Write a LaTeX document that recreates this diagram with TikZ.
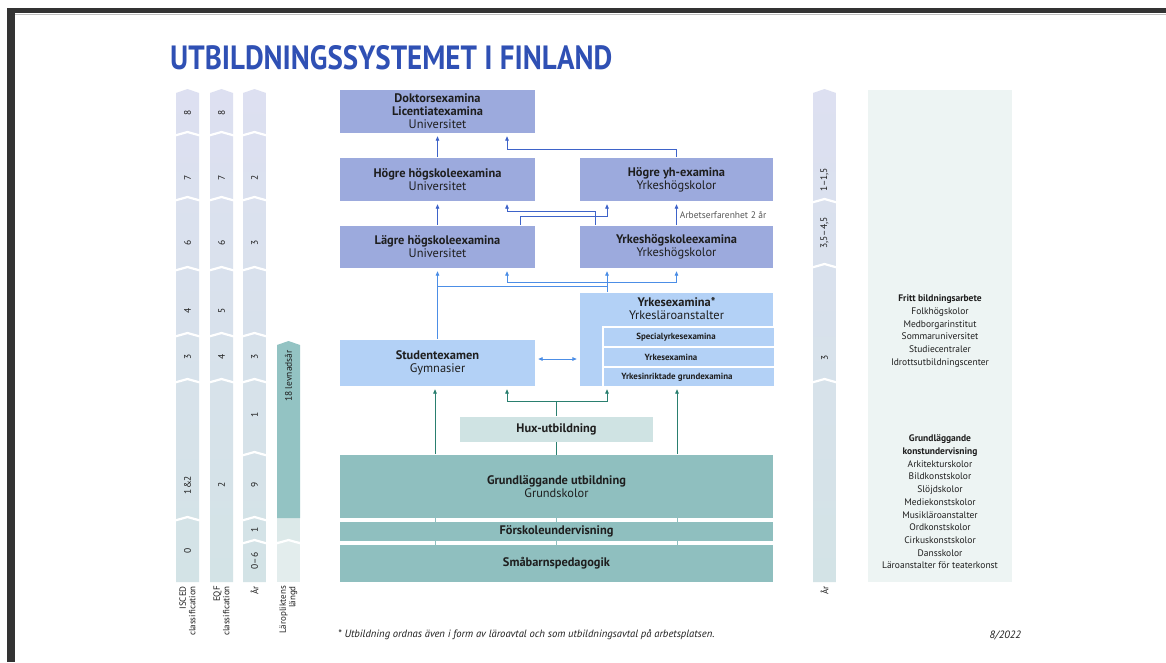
\documentclass[tikz,border=0pt]{standalone}
\usepackage{fontspec}
\setmainfont{PT Sans}
\usepackage{graphicx}
\usetikzlibrary{arrows.meta}

\definecolor{titleblue}{HTML}{2F50B4}
\definecolor{unifill}{HTML}{9CAADD}
\definecolor{gymfill}{HTML}{B3D1F6}
\definecolor{huxfill}{HTML}{CFE3E3}
\definecolor{grundfill}{HTML}{8FBFBF}
\definecolor{arrblue}{HTML}{3E63C9}
\definecolor{arrlight}{HTML}{4C8EE6}
\definecolor{arrgreen}{HTML}{2A7F6F}
\definecolor{coltop}{HTML}{DDE0F1}
\definecolor{colbot}{HTML}{D3E3E6}
\definecolor{panelbg}{HTML}{EDF4F3}
\definecolor{pliktdark}{HTML}{93C3C3}
\definecolor{pliktlight}{HTML}{DCE9E9}
\definecolor{pliktpale}{HTML}{E3EDED}
\definecolor{framegray}{HTML}{333333}
\definecolor{txt}{HTML}{1E1E1E}

\tikzset{
  box/.style={rectangle, inner sep=0pt, align=center, text=txt, font=\fontsize{12.4}{13}\selectfont},
  uni/.style={box, fill=unifill, minimum width=195pt, minimum height=43pt},
  gym/.style={box, fill=gymfill},
  sub/.style={rectangle, fill=gymfill, draw=white, line width=2.5pt, minimum width=172pt, minimum height=20pt, inner sep=0pt},
  subtxt/.style={inner sep=0pt, text=txt, font=\bfseries\fontsize{8.9}{10}\selectfont},
  grund/.style={box, fill=grundfill, minimum width=433pt},
  colnum/.style={rotate=90, inner sep=0pt, text=txt, font=\fontsize{9.5}{10}\selectfont},
  collbl/.style={rotate=90, anchor=east, align=right, inner sep=0pt, text=txt, font=\fontsize{9}{9.5}\selectfont},
  notch/.style={draw=white, line width=2.2pt},
  paneltxt/.style={align=center, inner sep=0pt, text=txt, font=\fontsize{9.5}{12.7}\selectfont},
  uparr/.style={draw=arrblue, line width=0.9pt, -{Triangle[length=4.5pt,width=3.6pt]}, shorten <=1pt, shorten >=3pt},
  midarr/.style={uparr, draw=arrlight},
  grarr/.style={uparr, draw=arrgreen},
}

\begin{document}
\begin{tikzpicture}[x=1pt, y=-1pt]
\useasboundingbox (0,0) rectangle (1166,662);
\fill[white] (0,0) rectangle (1166,662);
% viewer frame
\fill[framegray] (7,8) rectangle (1166,13);
\fill[framegray] (7,8) rectangle (15,662);
\draw[gray!50, line width=1pt] (15,14) -- (1166,14);

\node[anchor=south west, inner sep=0pt, text=titleblue] (title) at (170,70)
  {\resizebox{442pt}{24pt}{\bfseries UTBILDNINGSSYSTEMET I FINLAND}};

% classification columns
\foreach \cx in {176,210,243,813} {
  \shade[top color=coltop, bottom color=colbot] (\cx,93) -- (\cx+11.5,89) -- (\cx+23,93) -- (\cx+23,582) -- (\cx,582) -- cycle;
}
\foreach \cx/\bl in {176/{133,198,268,334,380,518}, 210/{133,198,268,334,380},
                     243/{133,198,268,334,380,453,518,541}, 813/{200,265,380}} {
  \foreach \b in \bl
    \draw[notch] (\cx-1,\b+2.5) -- (\cx+11.5,\b-1) -- (\cx+24,\b+2.5);
}
\foreach \cx/\y/\t in {176/113/8, 176/178/7, 176/243/6, 176/311/4, 176/357/3, 176/485/1\&2, 176/551/0,
                       210/113/8, 210/178/7, 210/243/6, 210/311/5, 210/357/4, 210/485/2,
                       243/178/2, 243/243/3, 243/357/3, 243/415/1, 243/485/9, 243/530/1, 243/561/0–6,
                       813/180/1–1{,}5, 813/233/{3,5–4,5}, 813/358/3} {
  \node[colnum] (num-\cx-\y) at (\cx+11.5,\y) {\t};
}
% compulsory education
\fill[pliktpale] (277,541) rectangle (300,582);
\fill[pliktlight] (277,518) rectangle (300,541);
\fill[pliktdark] (277,345) -- (288.5,341) -- (300,345) -- (300,518) -- (277,518) -- cycle;
\draw[notch] (276,543.5) -- (288.5,540) -- (301,543.5);
\node[colnum] (plikt) at (288.5,376) {18 levnadsår};

\node[collbl] (lbl-isced) at (187.5,586) {ISCED\\classification};
\node[collbl] (lbl-eqf) at (221.5,586) {EQF\\classification};
\node[collbl] (lbl-ar) at (254.5,586) {År};
\node[collbl] (lbl-plikt) at (288.5,586) {Läropliktens\\längd};
\node[collbl] (lbl-ar2) at (824.5,586) {År};

% liberal adult education
\node[rectangle, fill=panelbg, minimum width=144pt, minimum height=492pt, inner sep=0pt] (fritt) at (940,336) {};
\node[paneltxt] (fritt-txt) at (940,331) {\textbf{Fritt bildningsarbete}\\Folkhögskolor\\Medborgarinstitut\\Sommaruniversitet\\Studiecentraler\\Idrottsutbildningscenter};
\node[paneltxt] (konst-txt) at (940,502) {\textbf{Grundläggande}\\\textbf{konstundervisning}\\Arkitekturskolor\\Bildkonstskolor\\Slöjdskolor\\Mediekonstskolor\\Musikläroanstalter\\Ordkonstskolor\\Cirkuskonstskolor\\Dansskolor\\Läroanstalter för teaterkonst};

% higher education
\node[uni] (doktor) at (437.5,111.5) {\textbf{Doktorsexamina}\\\textbf{Licentiatexamina}\\Universitet};
\node[uni] (hogre) at (437.5,179.5) {\textbf{Högre högskoleexamina}\\Universitet};
\node[uni, minimum width=193pt] (hogreyh) at (676.5,179.5) {\textbf{Högre yh-examina}\\Yrkeshögskolor};
\node[uni, minimum height=42pt] (lagre) at (437.5,247) {\textbf{Lägre högskoleexamina}\\Universitet};
\node[uni, minimum width=193pt, minimum height=42pt] (yrkesh) at (676.5,247) {\textbf{Yrkeshögskoleexamina}\\Yrkeshögskolor};

% upper secondary
\node[gym, minimum width=195pt, minimum height=46pt] (student) at (437.5,363) {\textbf{Studentexamen}\\Gymnasier};
\node[gym, minimum width=193pt, minimum height=93pt] (yrkesex) at (676.5,339.5) {};
\node[box] (yrkesex-txt) at (676.5,309) {\textbf{Yrkesexamina*}\\Yrkesläroanstalter};
\node[sub] (spec) at (689,337) {};
\node[sub] (yex) at (689,357) {};
\node[sub] (grex) at (689,377) {};
\node[subtxt] (spec-txt) at (676,337) {Specialyrkesexamina};
\node[subtxt] (yex-txt) at (671,357) {Yrkesexamina};
\node[subtxt] (grex-txt) at (677,377) {Yrkesinriktade grundexamina};

% basic education
\node[box, fill=huxfill, minimum width=193pt, minimum height=25pt] (hux) at (556.5,429.5) {\textbf{Hux-utbildning}};
\node[grund, minimum height=63pt] (grundutb) at (556.5,486.5) {\textbf{Grundläggande utbildning}\\Grundskolor};
\node[grund, minimum height=19pt] (forskole) at (556.5,531.5) {\textbf{Förskoleundervisning}};
\node[grund, minimum height=37pt] (smabarn) at (556.5,563.5) {\textbf{Småbarnspedagogik}};

\coordinate (xa) at (435,0);
\coordinate (xb) at (507,0);
\coordinate (xc) at (607,0);
\coordinate (xd) at (677,0);
\coordinate (xf) at (520,0);
\coordinate (xg) at (595,0);

% arrows, higher education
\draw[uparr] (hogre.north) -- (doktor.south);
\draw[uparr] (hogreyh.north) -- ++(0,-8) -| (doktor.south -| xb);
\draw[uparr] (lagre.north) -- (hogre.south);
\draw[uparr] (yrkesh.north -| xg) -- ++(0,-14) -| (hogre.south -| xb);
\draw[uparr] (lagre.north -| xf) -- ++(0,-9) -| (hogreyh.south -| xc);
\draw[uparr] (yrkesh.north) -- (hogreyh.south)
  node[pos=0.45, right=3pt, inner sep=0pt, text=txt!75, font=\fontsize{9.5}{10}\selectfont] (arbexp) {Arbetserfarenhet 2 år};

% arrows, upper secondary
\draw[midarr] (student.north) -- (lagre.south);
\draw[midarr] (student.north) -- ++(0,-53) -| (yrkesh.south -| xc);
\draw[midarr] (yrkesex.north -| xc) -- ++(0,-10) -| (lagre.south -| xb);
\draw[midarr] (yrkesex.north -| xc) -- ++(0,-10) -| (yrkesh.south);
\draw[midarr, {Triangle[length=4.5pt,width=3.6pt]}-{Triangle[length=4.5pt,width=3.6pt]}, shorten <=3pt]
  ([yshift=4pt]student.east) -- ([yshift=4pt]yrkesex.west |- student.east);

% arrows, basic education
\draw[grarr] (grundutb.north -| xa) -- (student.south -| xa);
\draw[grarr] (grundutb.north -| xd) -- (yrkesex.south -| xd);
\draw[draw=arrgreen, line width=0.9pt] (grundutb.north) -- (hux.south);
\draw[grarr] (hux.north) -- ++(0,-15) -| (student.south -| xb);
\draw[grarr] (hux.north) -- ++(0,-15) -| (yrkesex.south -| xc);
\foreach \p in {xa,grundutb,xd} {
  \draw[grundfill, line width=1pt] (smabarn.north -| \p) -- (forskole.south -| \p);
  \draw[grundfill, line width=1pt] (forskole.north -| \p) -- (grundutb.south -| \p);
}

% footer
\node[anchor=west, inner sep=0pt, text=txt, font=\itshape\fontsize{10.6}{12}\selectfont] (foot) at (338,635)
  {* Utbildning ordnas även i form av läroavtal och som utbildningsavtal på arbetsplatsen.};
\node[anchor=east, inner sep=0pt, text=txt, font=\itshape\fontsize{10.6}{12}\selectfont] (datum) at (1021,635) {8/2022};
\end{tikzpicture}
\end{document}
